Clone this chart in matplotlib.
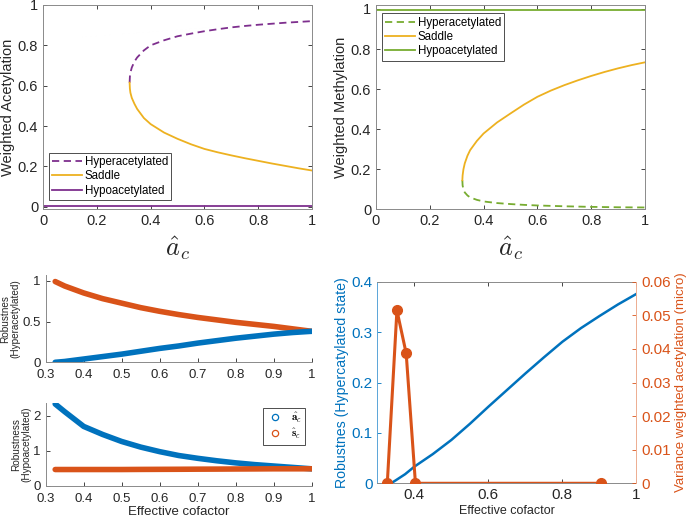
import matplotlib
matplotlib.use("Agg")
import matplotlib.pyplot as plt
from matplotlib.lines import Line2D
from matplotlib.ticker import FuncFormatter, MultipleLocator

plt.rcParams["font.family"] = ["Liberation Sans", "DejaVu Sans"]
plt.rcParams["mathtext.fontset"] = "cm"

BLUE = "#0072BD"
ORANGE = "#D95319"
YELLOW = "#EDB120"
PURPLE = "#7E2F8E"
GREEN = "#77AC30"
TXT = "#262626"
SPINE = "#8a8a8a"

# --- top left: weighted acetylation bifurcation
acet_x = [0.322, 0.323, 0.325, 0.33, 0.34, 0.35, 0.375, 0.4, 0.45, 0.5, 0.55,
          0.6, 0.65, 0.7, 0.75, 0.8, 0.85, 0.9, 0.95, 1.0]
acet_hyper_y = [0.615, 0.645, 0.665, 0.69, 0.72, 0.74, 0.775, 0.80, 0.825, 0.845,
                0.858, 0.870, 0.880, 0.889, 0.896, 0.902, 0.907, 0.912, 0.916, 0.920]
acet_saddle_y = [0.615, 0.585, 0.565, 0.54, 0.51, 0.485, 0.44, 0.41, 0.368, 0.337,
                 0.31, 0.287, 0.27, 0.255, 0.241, 0.228, 0.215, 0.203, 0.191, 0.180]
acet_hypo_x = [0.0, 1.0]
acet_hypo_y = [0.003, 0.003]

# --- top right: weighted methylation bifurcation
meth_x = [0.321, 0.322, 0.325, 0.33, 0.34, 0.35, 0.375, 0.4, 0.45, 0.5, 0.55,
          0.6, 0.65, 0.7, 0.75, 0.8, 0.85, 0.9, 0.95, 1.0]
meth_hyper_y = [0.146, 0.12, 0.10, 0.085, 0.07, 0.06, 0.048, 0.040, 0.032, 0.027,
                0.023, 0.020, 0.018, 0.016, 0.0145, 0.013, 0.012, 0.011, 0.0105, 0.010]
meth_saddle_y = [0.146, 0.17, 0.20, 0.23, 0.268, 0.296, 0.342, 0.379, 0.434, 0.479,
                 0.523, 0.562, 0.593, 0.620, 0.644, 0.666, 0.686, 0.704, 0.720, 0.734]
meth_hypo_x = [0.0, 1.0]
meth_hypo_y = [0.995, 0.995]

# --- robustness, hyperacetylated / hypoacetylated states
cof = [0.325, 0.35, 0.4, 0.45, 0.5, 0.55, 0.6, 0.65, 0.7, 0.75, 0.8, 0.85, 0.9,
       0.95, 1.0]
rob_hyper_a = [0.0, 0.01, 0.04, 0.07, 0.10, 0.135, 0.17, 0.20, 0.235, 0.265, 0.295,
               0.32, 0.345, 0.365, 0.38]
rob_hyper_s = [0.99, 0.935, 0.85, 0.78, 0.725, 0.67, 0.625, 0.585, 0.55, 0.52, 0.49,
               0.465, 0.44, 0.41, 0.38]
rob_hypo_a = [2.34, 2.12, 1.70, 1.47, 1.27, 1.11, 0.98, 0.87, 0.79, 0.72, 0.66, 0.61,
              0.57, 0.53, 0.49]
rob_hypo_s = [0.47, 0.47, 0.47, 0.47, 0.47, 0.473, 0.475, 0.477, 0.48, 0.482, 0.485,
              0.487, 0.49, 0.49, 0.49]

# --- bottom right: robustness vs variance
rob_line_x = [0.337, 0.35, 0.375, 0.4, 0.45, 0.5, 0.55, 0.6, 0.65, 0.7, 0.75, 0.8,
              0.85, 0.9, 0.95, 1.0]
rob_line_y = [0.0, 0.006, 0.018, 0.033, 0.058, 0.086, 0.118, 0.152, 0.185, 0.218,
              0.25, 0.281, 0.308, 0.332, 0.355, 0.376]
var_x = [0.327, 0.353, 0.378, 0.403, 0.905]
var_y = [0.0, 0.0515, 0.0387, 0.0, 0.0]


def g_fmt(v, pos):
    return f"{v:g}"


def style_ax(ax, size):
    ax.tick_params(direction="in", length=3, width=0.6, colors=TXT,
                   labelsize=size, top=False, right=False)
    for sp in ax.spines.values():
        sp.set_color(SPINE)
        sp.set_linewidth(0.7)
    ax.xaxis.set_major_formatter(FuncFormatter(g_fmt))
    ax.yaxis.set_major_formatter(FuncFormatter(g_fmt))


def box_legend(ax, *args, **kw):
    leg = ax.legend(*args, frameon=True, fancybox=False, edgecolor="0.3",
                    framealpha=1, borderaxespad=0, **kw)
    leg.get_frame().set_linewidth(0.7)
    return leg


fig = plt.figure(figsize=(6.88, 5.18), dpi=100)

# top left
ax1 = fig.add_axes([0.0625, 0.5956, 0.391, 0.3948])
ax1.plot(acet_x, acet_hyper_y, "--", color=PURPLE, lw=1.3, dashes=(4, 2.5),
         label="Hyperacetylated")
ax1.plot(acet_x, acet_saddle_y, "-", color=YELLOW, lw=1.3, label="Saddle")
ax1.plot(acet_hypo_x, acet_hypo_y, "-", color=PURPLE, lw=1.3, label="Hypoacetylated")
ax1.set_xlim(0, 1)
ax1.set_ylim(-0.013, 1)
ax1.xaxis.set_major_locator(MultipleLocator(0.2))
ax1.yaxis.set_major_locator(MultipleLocator(0.2))
style_ax(ax1, 10.5)
ax1.tick_params(top=True, right=True)
ax1.set_ylabel("Weighted Acetylation", fontsize=10.5, color=TXT, labelpad=2)
ax1.set_xlabel(r"$\hat{a}_c$", fontsize=19, color=TXT, labelpad=4)
box_legend(ax1, loc="lower left", bbox_to_anchor=(0.022, 0.046), fontsize=8.3,
           handlelength=2.6, handletextpad=0.2, borderpad=0.3, labelspacing=0.2)

# top right
ax2 = fig.add_axes([0.5465, 0.5956, 0.391, 0.3948])
ax2.plot(meth_x, meth_hyper_y, "--", color=GREEN, lw=1.3, dashes=(4, 2.5),
         label="Hyperacetylated")
ax2.plot(meth_x, meth_saddle_y, "-", color=YELLOW, lw=1.3, label="Saddle")
ax2.plot(meth_hypo_x, meth_hypo_y, "-", color=GREEN, lw=1.3, label="Hypoacetylated")
ax2.set_xlim(0, 1)
ax2.set_ylim(0, 1.02)
ax2.xaxis.set_major_locator(MultipleLocator(0.2))
ax2.yaxis.set_major_locator(MultipleLocator(0.2))
style_ax(ax2, 10.5)
ax2.tick_params(top=True, right=True)
ax2.set_ylabel("Weighted Methylation", fontsize=10.5, color=TXT, labelpad=2)
ax2.set_xlabel(r"$\hat{a}_c$", fontsize=19, color=TXT, labelpad=4)
box_legend(ax2, loc="upper left", bbox_to_anchor=(0.022, 0.96), fontsize=8.3,
           handlelength=2.6, handletextpad=0.2, borderpad=0.3, labelspacing=0.2)

# middle left
ax3 = fig.add_axes([0.0664, 0.3006, 0.3866, 0.1685])
ax3.plot(cof, rob_hyper_s, "-", color=ORANGE, lw=4, solid_capstyle="round")
ax3.plot(cof, rob_hyper_a, "-", color=BLUE, lw=4, solid_capstyle="round")
ax3.set_xlim(0.3, 1)
ax3.set_ylim(0, 1.07)
ax3.set_yticks([0, 0.5, 1])
ax3.xaxis.set_major_locator(MultipleLocator(0.1))
style_ax(ax3, 9.5)
ax3.tick_params(axis="x", pad=5)
ax3.spines["top"].set_visible(False)
ax3.spines["right"].set_visible(False)
ax3.set_ylabel("Robustnes\n(Hyperacetylated)", fontsize=7.2, color=TXT,
               labelpad=1.5, linespacing=1.0)

# bottom left
ax4 = fig.add_axes([0.0664, 0.0618, 0.3866, 0.161])
ax4.plot(cof, rob_hypo_a, "-", color=BLUE, lw=4, solid_capstyle="round")
ax4.plot(cof, rob_hypo_s, "-", color=ORANGE, lw=4, solid_capstyle="round")
ax4.set_xlim(0.3, 1)
ax4.set_ylim(0, 2.38)
ax4.set_yticks([0, 1, 2])
ax4.xaxis.set_major_locator(MultipleLocator(0.1))
style_ax(ax4, 9.5)
ax4.tick_params(axis="x", pad=5)
ax4.spines["top"].set_visible(False)
ax4.spines["right"].set_visible(False)
ax4.set_ylabel("Robustness\n(Hypoacetylated)", fontsize=7.2, color=TXT,
               labelpad=1.5, linespacing=1.0)
ax4.set_xlabel("Effective cofactor", fontsize=9.5, color=TXT, labelpad=1)
handles = [
    Line2D([], [], ls="none", marker="o", mfc="none", mec=BLUE, ms=4.5, mew=0.9),
    Line2D([], [], ls="none", marker="o", mfc="none", mec=ORANGE, ms=4.5, mew=0.9),
]
box_legend(ax4, handles, [r"$\hat{\mathbf{a}}_c$", r"$\hat{\mathbf{s}}_c$"],
           loc="upper right", bbox_to_anchor=(0.975, 0.94), fontsize=8,
           handlelength=1.6, handletextpad=0.6, borderpad=0.3, labelspacing=0.2)

# bottom right
ax5 = fig.add_axes([0.5484, 0.067, 0.3767, 0.389])
ax5.plot(rob_line_x, rob_line_y, "-", color=BLUE, lw=1.8)
ax5.set_xlim(0.3, 1)
ax5.set_ylim(0, 0.4)
ax5.set_xticks([0.4, 0.6, 0.8, 1.0])
ax5.yaxis.set_major_locator(MultipleLocator(0.1))
style_ax(ax5, 11)
ax5.tick_params(axis="x", top=True)
ax5.tick_params(axis="y", colors=BLUE)
ax5.spines["left"].set_color("#5AA5D8")
ax5.spines["right"].set_visible(False)
ax5.set_xlabel("Effective cofactor", fontsize=9, color=TXT, labelpad=2)
ax5.set_ylabel("Robustnes (Hypercatylated state)", fontsize=10.2, color=BLUE,
               labelpad=2)

ax6 = ax5.twinx()
ax6.plot(var_x, var_y, "-o", color=ORANGE, lw=2.2, ms=7)
ax6.set_xlim(0.3, 1)
ax6.set_ylim(0, 0.06)
ax6.yaxis.set_major_locator(MultipleLocator(0.01))
ax6.tick_params(direction="in", length=3, width=0.6, colors=ORANGE, labelsize=11)
ax6.yaxis.set_major_formatter(FuncFormatter(g_fmt))
for name, sp in ax6.spines.items():
    sp.set_visible(name == "right")
ax6.spines["right"].set_color("#EDAD90")
ax6.spines["right"].set_linewidth(0.7)
ax6.set_ylabel("Variance weighted acetylation (micro)", fontsize=9.5,
               color=ORANGE, labelpad=3)

fig.savefig("out.png", dpi=100)
